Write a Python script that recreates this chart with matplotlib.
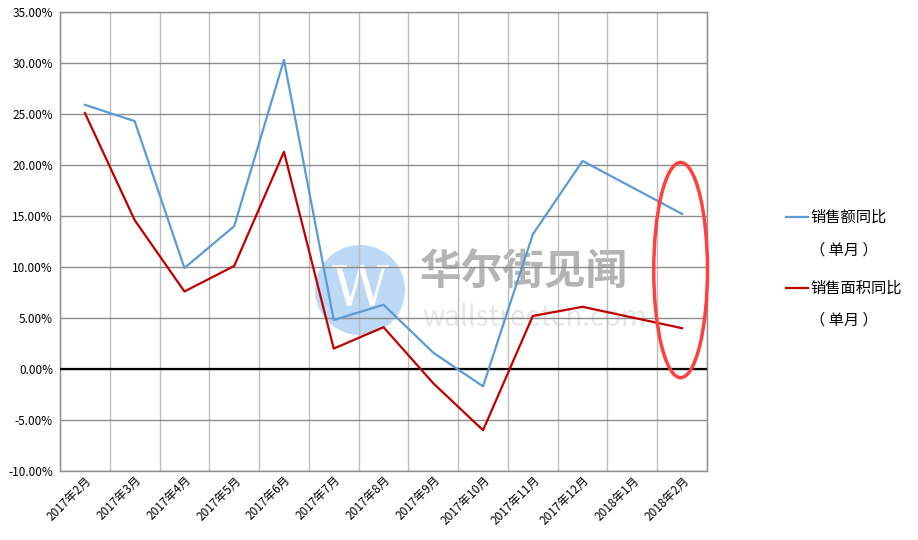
import numpy as np
import matplotlib
matplotlib.use("Agg")
import matplotlib.pyplot as plt
from matplotlib.patches import Ellipse
from matplotlib.lines import Line2D
from matplotlib.ticker import FuncFormatter, MultipleLocator

plt.rcParams['font.family'] = ['Noto Sans CJK SC', 'DejaVu Sans']

# categories (2018年1月 has no single-month figure)
months = ['2017年2月', '2017年3月', '2017年4月', '2017年5月', '2017年6月', '2017年7月',
          '2017年8月', '2017年9月', '2017年10月', '2017年11月', '2017年12月',
          '2018年1月', '2018年2月']
# 销售额同比（单月）, %
sales_amount = [25.9, 24.3, 9.9, 14.0, 30.3, 4.8, 6.3, 1.6, -1.7, 13.2, 20.4, np.nan, 15.2]
# 销售面积同比（单月）, %
sales_area = [25.1, 14.6, 7.6, 10.1, 21.3, 2.0, 4.1, -1.4, -6.0, 5.2, 6.1, np.nan, 4.0]

blue = '#5b9bd5'
red = '#c00000'

fig = plt.figure(figsize=(9.18, 5.4), dpi=100)
ax = fig.add_axes([60/918, 1-471/540, (707-60)/918, (471-12)/540])
ax.patch.set_alpha(0)  # let the watermark show under the grid and lines

x = np.arange(len(months))
a = np.array(sales_amount)
b = np.array(sales_area)
ok = ~np.isnan(a)
ax.plot(x[ok], a[ok], color=blue, lw=1.6, zorder=4)
ok = ~np.isnan(b)
ax.plot(x[ok], b[ok], color=red, lw=1.6, zorder=4)

ax.axhline(0, color='black', lw=1.6, zorder=3)

ax.set_xlim(-0.5, len(months) - 0.5)
ax.set_ylim(-10, 35)
ax.yaxis.set_major_locator(MultipleLocator(5))
ax.yaxis.set_major_formatter(FuncFormatter(lambda v, p: '%.2f%%' % v))
ax.set_xticks(x)
ax.set_xticklabels(months, rotation=45, ha='right', va='top', rotation_mode='anchor')
ax.set_xticks(np.arange(len(months) + 1) - 0.5, minor=True)
ax.tick_params(axis='x', which='both', length=0, labelsize=8.5, pad=2)
ax.tick_params(axis='y', length=0, labelsize=8.5, pad=5)

ax.grid(True, axis='y', which='major', color='#8c8c8c', lw=1.0, zorder=1)
ax.grid(True, axis='x', which='minor', color='#bdbdbd', lw=1.0, zorder=1)
for s in ax.spines.values():
    s.set_color('#8c8c8c')
    s.set_linewidth(1.0)

# red highlight on the latest month
ax.add_patch(Ellipse((11.97, 9.7), 1.08, 21.1, fill=False, ec='#ff4040', lw=2.5,
                     zorder=5, clip_on=False))

# watermark (behind the axes)
fig.add_artist(Ellipse((360/918, 1-290/540), 90/918, 90/540, transform=fig.transFigure,
                       fc='#bcd9f5', ec='none', zorder=-2))
fig.text(360/918, 1-290/540, 'W', color='white', fontsize=40, family='DejaVu Serif',
         ha='center', va='center', zorder=-1)
fig.text(420/918, 1-272/540, '华尔街见闻', color='#b4b4b4', fontsize=30, fontweight='bold',
         ha='left', va='center', zorder=-1)
fig.text(422/918, 1-318/540, 'wallstreetcn.com', color='#e6e6e6', fontsize=20,
         ha='left', va='center', zorder=-1)

# legend
fig.add_artist(Line2D([786/918, 808/918], [1-217/540, 1-217/540], color=blue, lw=1.6))
fig.text(810/918, 1-217/540, '销售额同比', fontsize=11, ha='left', va='center')
fig.text(810/918, 1-250/540, '（ 单月 ）', fontsize=11, ha='left', va='center')
fig.add_artist(Line2D([786/918, 808/918], [1-288/540, 1-288/540], color=red, lw=1.6))
fig.text(810/918, 1-288/540, '销售面积同比', fontsize=11, ha='left', va='center')
fig.text(810/918, 1-320/540, '（ 单月 ）', fontsize=11, ha='left', va='center')

fig.savefig('out.png', dpi=100)
